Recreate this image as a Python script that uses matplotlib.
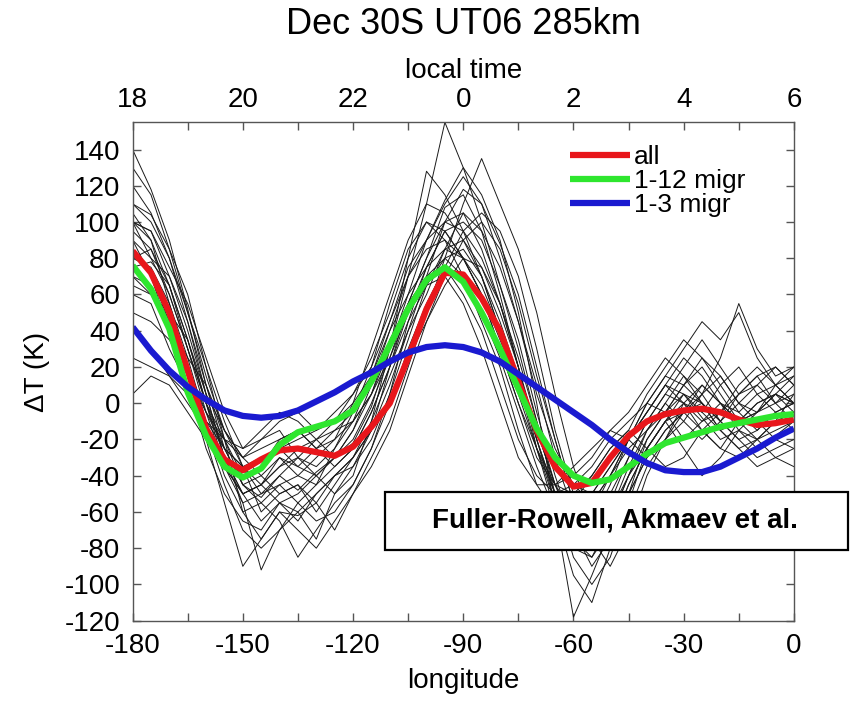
import numpy as np
import matplotlib.pyplot as plt
from matplotlib.patches import Rectangle

plt.rcParams['font.family'] = ['Liberation Sans', 'DejaVu Sans']
plt.rcParams['axes.unicode_minus'] = False

# longitude grid of the model output (deg)
lon = np.arange(-180, 1, 5)

# ensemble of daily temperature perturbations (K)
day01 = [140, 118, 90, 52, 10, -25, -45, -52, -40, -48, -38, -30, -22, -2, 30, 70, 110, 155, 130, 100, 65, 30, -10, -45, -70, -60, -40, -20, -5, 10, 5, -8, -20, -15, -25, -18, -10]
day02 = [110, 104, 85, 60, 20, -20, -60, -75, -60, -62, -55, -40, -30, -10, 15, 40, 70, 100, 118, 110, 88, 60, 20, -20, -55, -80, -60, -35, -15, 0, 15, 5, -10, 5, 15, 0, 5]
day03 = [100, 95, 70, 40, 5, -30, -55, -92, -70, -60, -75, -50, -35, -15, 20, 55, 80, 108, 115, 95, 60, 20, -25, -60, -95, -110, -80, -50, -20, -5, 10, 25, 15, 0, -10, -20, -25]
day04 = [95, 85, 60, 30, -5, -35, -50, -45, -30, -40, -45, -25, -5, 20, 55, 85, 100, 90, 70, 45, 20, -15, -45, -60, -55, -40, -25, -15, 5, 20, 35, 25, 10, -5, 5, 10, 0]
day05 = [90, 80, 70, 45, 10, -20, -40, -35, -20, -15, -25, -20, 0, 30, 60, 90, 110, 105, 90, 70, 40, 5, -25, -55, -70, -65, -45, -20, 0, 15, 10, 20, 5, -10, -20, -10, 5]
day06 = [75, 78, 65, 30, 0, -25, -35, -60, -50, -45, -60, -45, -30, -15, 0, 25, 45, 70, 90, 100, 85, 55, 15, -20, -55, -75, -70, -50, -30, -15, -5, 10, 0, -15, -5, 10, 15]
day07 = [70, 60, 50, 35, 5, -15, -30, -20, -15, -30, -20, -10, 0, 15, 40, 60, 75, 95, 80, 60, 30, 0, -30, -45, -40, -30, -15, -5, 10, 25, 15, 0, -15, -25, -20, -30, -35]
day08 = [85, 70, 40, 10, -25, -50, -65, -70, -55, -60, -50, -40, -35, -20, 5, 35, 65, 80, 85, 70, 45, 15, -15, -45, -65, -80, -65, -40, -25, -10, 0, -15, -25, -10, 0, 5, -5]
day09 = [120, 105, 80, 45, 5, -30, -50, -45, -35, -30, -40, -50, -40, -10, 30, 80, 128, 115, 95, 70, 40, 10, -25, -50, -65, -70, -55, -30, -10, 5, 20, 35, 20, 5, 10, 20, 10]
day10 = [60, 55, 30, 10, -10, -25, -35, -30, -25, -35, -40, -30, -15, 5, 35, 55, 70, 75, 60, 40, 10, -20, -40, -50, -45, -35, -20, -10, 0, -5, -20, -10, 0, -5, -15, -5, 0]
day11 = [105, 90, 55, 25, -10, -40, -60, -55, -65, -85, -70, -55, -45, -25, 5, 45, 75, 95, 100, 90, 65, 35, -5, -40, -70, -90, -75, -50, -30, -15, -5, 5, 15, 0, -5, 0, 10]
day12 = [25, 20, 15, 5, -10, -20, -25, -15, -5, -10, -20, -15, -5, 10, 30, 50, 65, 70, 55, 30, 0, -30, -45, -45, -35, -25, -15, -20, -30, -20, -5, 0, -10, -20, -30, -25, -20]
day13 = [80, 75, 55, 20, -15, -45, -70, -80, -70, -55, -65, -60, -45, -25, 0, 30, 55, 75, 95, 105, 95, 70, 30, -15, -50, -70, -60, -40, -20, -5, 5, 0, -10, -20, -15, -5, 0]
day14 = [100, 95, 75, 55, 25, -5, -25, -20, -10, -5, -15, -10, 5, 25, 50, 80, 100, 95, 80, 60, 30, 0, -25, -45, -50, -40, -25, -15, -25, -35, -30, -15, -5, 5, 15, 20, 10]
day15 = [90, 70, 45, 15, -20, -55, -90, -75, -60, -70, -80, -65, -50, -35, -15, 15, 45, 65, 80, 75, 55, 25, -10, -50, -85, -100, -85, -55, -25, -10, -25, -40, -30, -15, -20, -10, -5]
day16 = [50, 45, 35, 15, -5, -20, -30, -25, -20, -15, -25, -35, -25, -5, 20, 45, 65, 85, 105, 95, 75, 45, 10, -30, -60, -75, -90, -70, -40, -20, 0, 10, 0, -10, -5, 5, 15]
day17 = [130, 115, 85, 50, 15, -15, -35, -50, -40, -30, -35, -25, -10, 15, 45, 75, 90, 100, 95, 80, 55, 20, -15, -45, -60, -50, -35, -20, 0, 15, 30, 45, 35, 50, 25, 10, 20]
day18 = [70, 65, 45, 25, 10, -15, -30, -40, -50, -45, -55, -70, -50, -30, -10, 20, 50, 80, 110, 135, 110, 85, 50, 5, -35, -65, -80, -60, -35, -20, -10, -20, -10, 0, 10, 0, -10]
day19 = [100, 80, 60, 30, 0, -20, -45, -55, -45, -40, -30, -20, -10, 5, 25, 50, 70, 80, 70, 50, 25, -5, -35, -60, -75, -70, -50, -30, -10, 5, 0, -10, -5, 10, 20, 10, 0]
day20 = [80, 85, 65, 35, 0, -30, -50, -65, -55, -50, -40, -30, -15, 10, 40, 70, 90, 112, 130, 115, 90, 50, 0, -60, -118, -95, -70, -45, -25, -10, 5, -5, -15, -10, 0, 5, 0]
day21 = [40, 30, 15, 0, -15, -30, -40, -35, -25, -20, -15, -5, 5, 20, 45, 70, 85, 90, 80, 60, 35, 10, -15, -35, -45, -50, -35, -20, -5, 10, 25, 15, 0, -10, -5, 5, 0]
day22 = [110, 100, 80, 50, 20, -10, -35, -45, -35, -25, -20, -30, -20, 0, 25, 55, 80, 100, 105, 85, 55, 20, -20, -55, -80, -85, -65, -40, -15, 0, -10, 5, 25, 55, 30, 15, 20]
day23 = [65, 60, 40, 20, -5, -25, -45, -40, -30, -35, -25, -15, -10, 5, 30, 60, 90, 110, 125, 110, 80, 45, 5, -25, -45, -55, -40, -25, -15, -5, 10, 0, -15, -25, -35, -30, -25]
day24 = [100, 90, 65, 35, 0, -35, -55, -50, -45, -55, -45, -35, -25, -5, 20, 50, 75, 85, 80, 65, 40, 10, -20, -50, -65, -55, -40, -20, -5, 10, 0, -5, 10, 20, 5, -5, -15]
day25 = [5, 15, 10, -5, -20, -35, -50, -45, -55, -65, -50, -40, -30, -15, 10, 40, 60, 85, 90, 75, 50, 20, -20, -50, -75, -85, -70, -45, -25, -10, -5, -15, -25, -30, -20, -15, -10]
days = [day01, day02, day03, day04, day05, day06, day07, day08, day09, day10,
        day11, day12, day13, day14, day15, day16, day17, day18, day19, day20,
        day21, day22, day23, day24, day25]

# monthly mean and its migrating-tide reconstructions
t_all = [84, 72, 50, 18, -14, -31, -37, -31, -26, -25, -27, -29, -24, -13, 0, 25, 52, 72, 71, 58, 40, 12, -15, -35, -46, -44, -30, -18, -10, -6, -4, -3, -5, -9, -12, -11, -9]
t_mig12 = [76, 63, 41, 6, -18, -35, -41, -36, -23, -16, -13, -10, -4, 12, 32, 52, 68, 75, 67, 50, 30, 8, -14, -30, -40, -44, -42, -35, -28, -22, -19, -16, -13, -11, -9, -7, -6]
t_mig3 = [42, 29, 18, 9, 2, -4, -7, -8, -7, -4, 1, 6, 12, 17, 23, 28, 31, 32, 31, 28, 23, 16, 9, 2, -5, -12, -20, -27, -33, -37, -38, -38, -35, -30, -25, -19, -14]

lon_ticks = [-180, -150, -120, -90, -60, -30, 0]
lt_labels = ['18', '20', '22', '0', '2', '4', '6']

fig = plt.figure(figsize=(8.5, 7.05), dpi=100)
ax = fig.add_axes([0.156, 0.1196, 0.778, 0.7069])

for d in days:
    ax.plot(lon, d, color='#1a1a1a', lw=0.7)

ax.plot(lon, t_all, color='#e8161b', lw=4.5, label='all', solid_capstyle='butt')
ax.plot(lon, t_mig12, color='#2ee62e', lw=4.5, label='1-12 migr', solid_capstyle='butt')
ax.plot(lon, t_mig3, color='#1a1ad0', lw=4.5, label='1-3 migr', solid_capstyle='butt')

ax.set_xlim(-180, 0)
ax.set_ylim(-120, 155)
ax.set_xticks(lon_ticks)
ax.set_xticks(np.arange(-180, 1, 15), minor=True)
ax.set_yticks(np.arange(-120, 141, 20))
ax.tick_params(which='both', direction='in', length=6, width=1, color='#555555',
               labelsize=20, top=False, right=True)
ax.tick_params(axis='x', pad=9)
ax.tick_params(axis='y', pad=9)
for s in ax.spines.values():
    s.set_color('#555555')
    s.set_linewidth(1)

ax.set_xlabel('longitude', fontsize=20, labelpad=6)
ax.set_ylabel('ΔT (K)', fontsize=20, labelpad=10)

# local time axis on top
top = ax.twiny()
top.set_xlim(ax.get_xlim())
top.set_xticks(lon_ticks)
top.set_xticklabels(lt_labels)
top.set_xticks(np.arange(-180, 1, 15), minor=True)
top.tick_params(which='both', direction='in', length=6, width=1, color='#555555',
                labelsize=20, pad=7)
top.set_xlabel('local time', fontsize=20, labelpad=6)
for s in top.spines.values():
    s.set_visible(False)

fig.text(0.545, 0.965, 'Dec 30S UT06 285km', fontsize=26, ha='center', va='center')

ax.legend(loc='upper left', bbox_to_anchor=(0.645, 0.975), frameon=False,
          fontsize=19, handlelength=2.3, handletextpad=0.15, labelspacing=0.0,
          borderaxespad=0)

fig.add_artist(Rectangle((0.4529, 0.2199), 0.5447, 0.0823, transform=fig.transFigure,
                         facecolor='white', edgecolor='black', lw=1.6, zorder=5))
fig.text(0.7235, 0.261, 'Fuller-Rowell, Akmaev et al.', fontsize=20, fontweight='bold',
         ha='center', va='center', zorder=6)

fig.savefig('out.png', dpi=100)
